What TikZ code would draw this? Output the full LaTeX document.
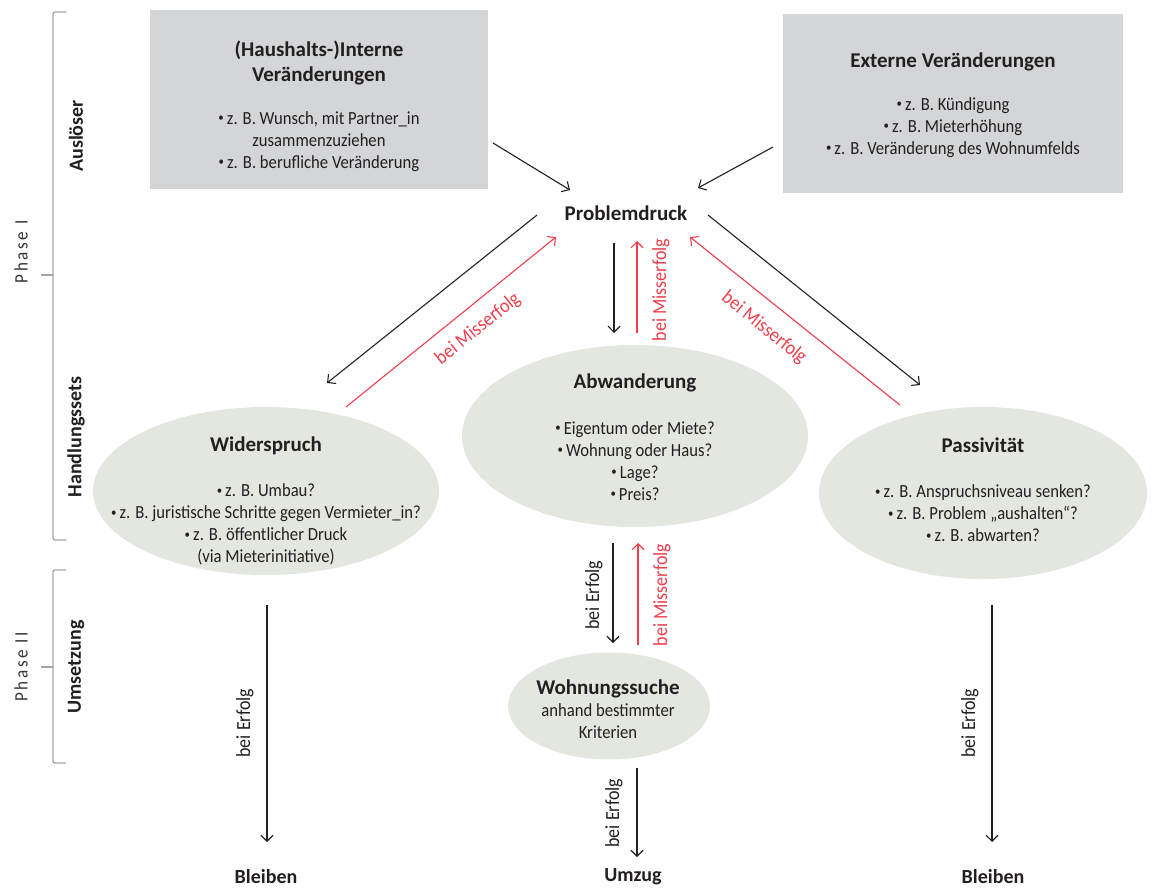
\documentclass[tikz,border=0pt]{standalone}
\usepackage{fontspec}
\setmainfont{Carlito}[FakeStretch=0.9, BoldFeatures={FakeStretch=1.0}]
\usetikzlibrary{arrows.meta,shapes.geometric}
\definecolor{txt}{HTML}{231F20}
\definecolor{boxgray}{HTML}{D4D5D7}
\definecolor{ovalgreen}{HTML}{E4E7DF}
\definecolor{redc}{HTML}{EE3F4C}
\definecolor{brackc}{HTML}{A3A4A6}
\newcommand\bl{\raisebox{.28ex}{\scalebox{.65}{•}}\,}
\newcommand\ttlfont{\bfseries\fontsize{21}{25}\selectfont}
\begin{document}
\begin{tikzpicture}[x=1pt,y=-1pt,
  body/.style={font=\fontsize{18.5}{22}\selectfont, text=txt, align=center, inner sep=0pt},
  ttl/.style={font=\ttlfont, text=txt, inner sep=0pt},
  outc/.style={font=\bfseries\fontsize{20}{24}\selectfont, text=txt, inner sep=0pt},
  side/.style={font=\bfseries\fontsize{20}{22}\selectfont, text=txt, rotate=90, inner sep=0pt},
  phase/.style={font=\fontsize{19}{20}\selectfont\addfontfeatures{LetterSpace=14}, text=txt!90, rotate=90, inner sep=0pt},
  lbl/.style={font=\fontsize{20}{22}\selectfont, inner sep=0pt},
  graybox/.style={rectangle, fill=boxgray, draw=none, inner sep=0pt},
  oval/.style={ellipse, fill=ovalgreen, draw=none, inner sep=0pt},
  blk/.style={draw=txt, line width=1.1pt, -{Straight Barb[length=6pt,width=12pt]}},
  redar/.style={draw=redc, line width=1.1pt, -{Straight Barb[length=6pt,width=12pt]}},
  brack/.style={draw=brackc, line width=1.3pt, rounded corners=2pt}]
\useasboundingbox (0,0) rectangle (1157,889);

% brackets
\draw[brack] (66,12) -- (53,12) -- (53,540) -- (66,540);
\draw[brack] (53,275) -- (41,275);
\draw[brack] (66,570) -- (53,570) -- (53,763) -- (66,763);
\draw[brack] (53,667) -- (41,667);
\node[phase] (ph1) at (21,252) {Phase I};
\node[phase] (ph2) at (21,667) {Phase II};
\node[side] (ausl) at (76,136) {Auslöser};
\node[side] (hand) at (76,437) {Handlungssets};
\node[side] (umse) at (76,667) {Umsetzung};

% top boxes
\node[graybox, minimum width=338pt, minimum height=179pt] (intbox) at (319,99.5) {};
\node[body] (inttxt) at (319,106) {{\ttlfont (Haushalts-)Interne}\\[3pt]
  {\ttlfont Veränderungen}\\[21pt]
  \bl z. B. Wunsch, mit Partner\_in\\ zusammenzuziehen\\ \bl z. B. berufliche Veränderung};
\node[graybox, minimum width=340pt, minimum height=179pt] (extbox) at (953,103.5) {};
\node[body] (exttxt) at (953,105) {{\ttlfont Externe Veränderungen}\\[21pt]
  \bl z. B. Kündigung\\ \bl z. B. Mieterhöhung\\ \bl z. B. Veränderung des Wohnumfelds};

\node[ttl] (prob) at (626,213) {Problemdruck};

% ellipses
\node[oval, minimum width=346pt, minimum height=168pt] (wid) at (266,491) {};
\node[body] (widtxt) at (266,501) {{\ttlfont Widerspruch}\\[23pt]
  \bl z. B. Umbau?\\ \bl z. B. juristische Schritte gegen Vermieter\_in?\\
  \bl z. B. öffentlicher Druck\\ (via Mieterinitiative)};
\node[oval, minimum width=346pt, minimum height=182pt] (abw) at (635,436) {};
\node[body] (abwtxt) at (635,437) {{\ttlfont Abwanderung}\\[24pt]
  \bl Eigentum oder Miete?\\ \bl Wohnung oder Haus?\\ \bl Lage?\\ \bl Preis?};
\node[oval, minimum width=328pt, minimum height=172pt] (pas) at (983,493) {};
\node[body] (pastxt) at (983,490) {{\ttlfont Passivität}\\[23pt]
  \bl z. B. Anspruchsniveau senken?\\ \bl z. B. Problem „aushalten“?\\ \bl z. B. abwarten?};
\node[oval, minimum width=202pt, minimum height=107pt] (wsu) at (609,706) {};
\node[body] (wsutxt) at (608,709) {{\ttlfont Wohnungssuche}\\
  anhand bestimmter\\ Kriterien};

% outcomes
\node[outc] (blL) at (266,877) {Bleiben};
\node[outc] (umz) at (633,877) {Umzug};
\node[outc] (blR) at (993,877) {Bleiben};

% arrow end points
\coordinate (a1s) at (493,143); \coordinate (a1e) at (570,190);
\coordinate (a2s) at (773,147); \coordinate (a2e) at (698,188);
\coordinate (bLs) at (537,215); \coordinate (bLe) at (327,383);
\coordinate (rLs) at (346,407); \coordinate (rLe) at (556,237);
\coordinate (bCs) at (614,243); \coordinate (bCe) at (614,333);
\coordinate (rCs) at (637,333); \coordinate (rCe) at (637,241);
\coordinate (bRs) at (708,215); \coordinate (bRe) at (920,385);
\coordinate (rRs) at (900,405); \coordinate (rRe) at (690,237);
\coordinate (bWs) at (613,543); \coordinate (bWe) at (613,643);
\coordinate (rWs) at (638,645); \coordinate (rWe) at (638,543);
\coordinate (bUs) at (637,768); \coordinate (bUe) at (637,857);
\coordinate (bLLs) at (267,605); \coordinate (bLLe) at (267,842);
\coordinate (bRRs) at (992,605); \coordinate (bRRe) at (992,842);

\draw[blk] (a1s) -- (a1e);
\draw[blk] (a2s) -- (a2e);
\draw[blk] (bLs) -- (bLe);
\draw[redar] (rLs) -- (rLe) node[lbl, text=redc, rotate=38.7] at (478,329) {bei Misserfolg};
\draw[blk] (bCs) -- (bCe);
\draw[redar] (rCs) -- (rCe) node[lbl, text=redc, rotate=90] at (661,290) {bei Misserfolg};
\draw[blk] (bRs) -- (bRe);
\draw[redar] (rRs) -- (rRe) node[lbl, text=redc, rotate=-38.7] at (764,328) {bei Misserfolg};
\draw[blk] (bWs) -- (bWe) node[lbl, text=txt, rotate=90] at (594,595) {bei Erfolg};
\draw[redar] (rWs) -- (rWe) node[lbl, text=redc, rotate=90] at (662,595) {bei Misserfolg};
\draw[blk] (bUs) -- (bUe) node[lbl, text=txt, rotate=90] at (614,813) {bei Erfolg};
\draw[blk] (bLLs) -- (bLLe) node[lbl, text=txt, rotate=90] at (245,723) {bei Erfolg};
\draw[blk] (bRRs) -- (bRRe) node[lbl, text=txt, rotate=90] at (970,723) {bei Erfolg};
\end{tikzpicture}
\end{document}
